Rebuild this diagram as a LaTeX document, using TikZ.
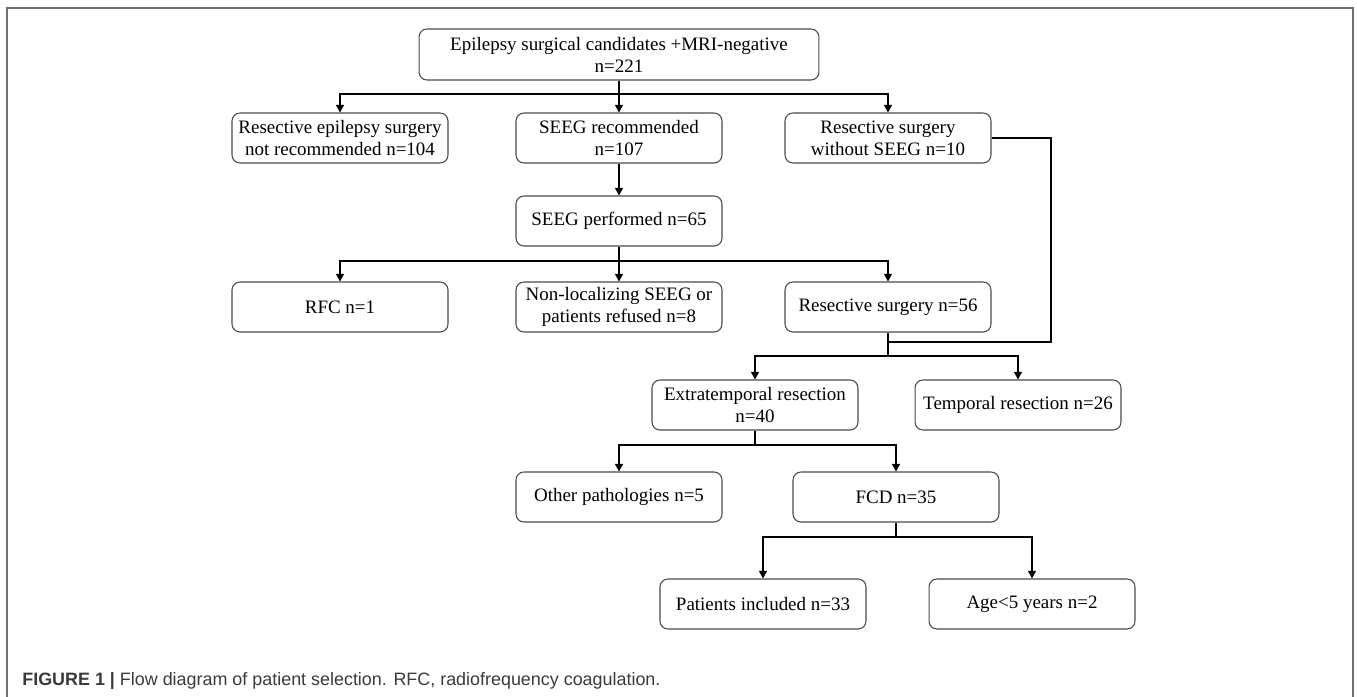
\documentclass[tikz,border=0pt]{standalone}
\usepackage{fontspec}
\setmainfont{Liberation Serif}
\newfontfamily\capfont{Liberation Sans}
\usetikzlibrary{arrows.meta}
\definecolor{boxgray}{HTML}{4A4A4A}
\definecolor{framegray}{HTML}{707070}
\definecolor{captext}{HTML}{3A3A3A}
\tikzset{
  stage/.style={draw=boxgray,rounded corners=4.5pt,line width=0.6pt,
    minimum width=4.12cm,minimum height=1cm,align=center,inner sep=1pt,
    font=\fontsize{10.8}{12.6}\selectfont},
  wide stage/.style={stage,minimum width=4.32cm},
  link/.style={draw=black,line width=0.75pt},
  flow/.style={link,-{Triangle[length=4.4pt,width=4.6pt]}},
  frame/.style={draw=framegray,line width=0.7pt}
}

\begin{document}
\begin{tikzpicture}[x=0.02cm,y=-0.02cm]
  \useasboundingbox (0,0) rectangle (1357,697);
  \draw[frame] (7,697) -- (7,8) -- (1353,8) -- (1353,697);

  % stages
  \node[stage,minimum width=8cm,minimum height=1.02cm] (cand) at (619,54.5)
    {Epilepsy surgical candidates +MRI-negative\\n=221};
  \node[wide stage] (notrec) at (340,138) {Resective epilepsy surgery\\not recommended n=104};
  \node[stage] (seegrec) at (619,138) {SEEG recommended\\n=107};
  \node[stage] (noseeg) at (888,138) {Resective surgery\\without SEEG n=10};
  \node[stage] (seegdone) at (619,221) {SEEG performed n=65};
  \node[wide stage] (rfc) at (340,307) {RFC n=1};
  \node[stage] (nonloc) at (619,307) {Non-localizing SEEG or\\patients refused n=8};
  \node[stage] (resect) at (888,307) {Resective surgery n=56};
  \node[stage] (extra) at (755,405) {Extratemporal resection\\n=40};
  \node[stage] (temporal) at (1018,405) {Temporal resection n=26};
  \node[stage] (other) at (619,497) {Other pathologies n=5};
  \node[stage] (fcd) at (896,497) {FCD n=35};
  \node[stage] (incl) at (763,604) {Patients included n=33};
  \node[stage] (young) at (1032,604) {Age<5 years n=2};

  % branch points
  \coordinate (s1) at (619,94);
  \coordinate (s2) at (619,261);
  \coordinate (s3) at (888,356);
  \coordinate (mj) at (888,342);
  \coordinate (bend) at (1051,342);
  \coordinate (s4) at (755,445);
  \coordinate (s5) at (896,537);

  \draw[flow] (cand) -- (seegrec);
  \draw[flow] (s1) -| (notrec);
  \draw[flow] (s1) -| (noseeg);
  \draw[flow] (seegrec) -- (seegdone);
  \draw[flow] (seegdone) -- (nonloc);
  \draw[flow] (s2) -| (rfc);
  \draw[flow] (s2) -| (resect);
  \draw[link] (noseeg.east) -| (bend) -- (mj);
  \draw[link] (resect.south) -- (s3);
  \draw[flow] (s3) -| (extra);
  \draw[flow] (s3) -| (temporal);
  \draw[link] (extra.south) -- (s4);
  \draw[flow] (s4) -| (other);
  \draw[flow] (s4) -| (fcd);
  \draw[link] (fcd.south) -- (s5);
  \draw[flow] (s5) -| (incl);
  \draw[flow] (s5) -| (young);

  \node[anchor=base west,inner sep=0pt,text=captext,
    font=\capfont\fontsize{10.2}{12}\selectfont] (caption) at (22,685)
    {\textbf{FIGURE 1 |} Flow diagram of patient selection. RFC, radiofrequency coagulation.};
\end{tikzpicture}
\end{document}
